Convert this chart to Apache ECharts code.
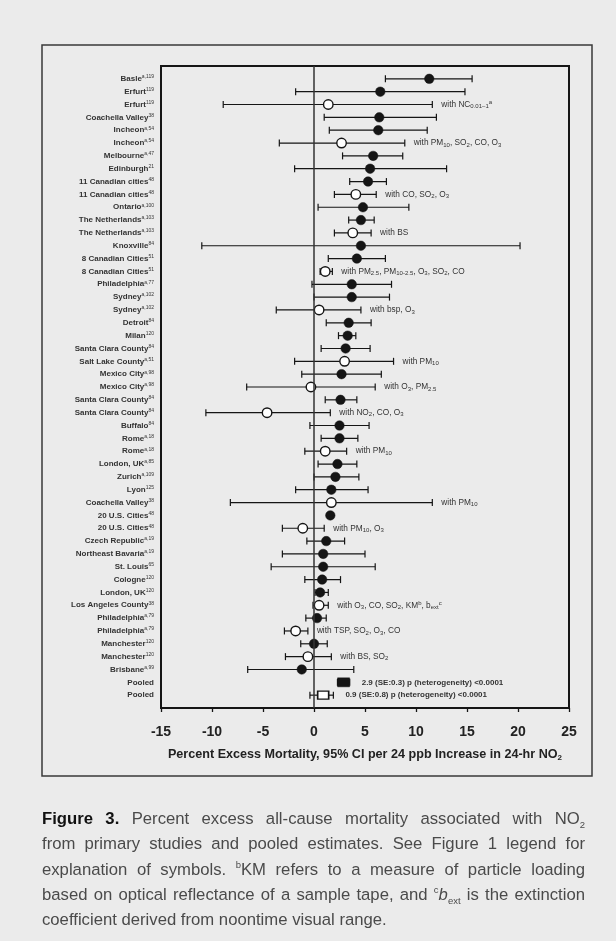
<!DOCTYPE html>
<html>
<head>
<meta charset="utf-8">
<script src="https://cdn.jsdelivr.net/npm/echarts@6/dist/echarts.min.js"></script>
<style>
html,body{margin:0;padding:0;background:#ebebeb;}
#wrap{position:relative;width:616px;height:941px;}
#c{position:absolute;left:0;top:0;width:616px;height:941px;}
#cap{position:absolute;left:42px;top:806px;width:543px;font-family:'Liberation Sans',Arial,sans-serif;
  font-size:16.7px;line-height:25.3px;color:#4a4a4a;}
#cap div{white-space:nowrap;}
#cap .j{text-align:justify;text-align-last:justify;white-space:normal;}
#cap b{color:#111;font-size:16.7px;}
#cap sub,#cap sup{font-size:9.5px;line-height:0;}
</style>
</head>
<body>
<div id="wrap">
<div id="c"></div>
<div id="cap">
  <div class="j"><b>Figure 3.</b> Percent excess all-cause mortality associated with NO<sub>2</sub></div>
  <div class="j">from primary studies and pooled estimates. See Figure 1 legend for</div>
  <div class="j">explanation of symbols. <sup>b</sup>KM refers to a measure of particle loading</div>
  <div class="j">based on optical reflectance of a sample tape, and <sup>c</sup><i>b</i><sub>ext</sub> is the extinction</div>
  <div>coefficient derived from noontime visual range.</div>
</div>
</div>
<script>
// ---- data ----
const studies = ["Basle","Erfurt","Erfurt","Coachella Valley","Incheon","Incheon","Melbourne","Edinburgh",
  "11 Canadian cities","11 Canadian cities","Ontario","The Netherlands","The Netherlands","Knoxville",
  "8 Canadian Cities","8 Canadian Cities","Philadelphia","Sydney","Sydney","Detroit","Milan",
  "Santa Clara County","Salt Lake County","Mexico City","Mexico City","Santa Clara County","Santa Clara County",
  "Buffalo","Rome","Rome","London, UK","Zurich","Lyon","Coachella Valley","20 U.S. Cities","20 U.S. Cities",
  "Czech Republic","Northeast Bavaria","St. Louis","Cologne","London, UK","Los Angeles County","Philadelphia",
  "Philadelphia","Manchester","Manchester","Brisbane","Pooled","Pooled"];
const refs = ["a,119","119","119","38","a,54","a,54","a,47","21","48","48","a,100","a,103","a,103","84",
  "51","51","a,77","a,102","a,102","84","120","84","a,51","a,98","a,98","84","84","84","a,18","a,18","a,85",
  "a,109","125","38","48","48","a,19","a,19","65","120","120","38","a,79","a,79","120","120","a,99","",""];
const estimate = [11.3,6.5,1.4,6.4,6.3,2.7,5.8,5.5,5.3,4.1,4.8,4.6,3.8,4.6,4.2,1.1,3.7,3.7,0.5,3.4,3.3,
  3.1,3.0,2.7,-0.3,2.6,-4.6,2.5,2.5,1.1,2.3,2.1,1.7,1.7,1.6,-1.1,1.2,0.9,0.9,0.8,0.6,0.5,0.3,-1.8,0.0,-0.6,-1.2,2.9,0.9];
const ciLow = [7.0,-1.8,-8.9,1.0,1.5,-3.4,2.8,-1.9,3.5,2.0,0.4,3.4,2.0,-11.0,1.4,0.6,-0.2,0.0,-3.7,1.2,2.4,
  0.7,-1.9,-1.2,-6.6,1.1,-10.6,-0.4,0.7,-0.9,0.4,0.0,-1.8,-8.2,null,-3.1,-0.7,-3.1,-4.2,-0.9,0.1,-0.1,-0.8,-2.9,-1.3,-2.8,-6.5,2.3,-0.4];
const ciHigh = [15.5,14.8,11.6,12.0,11.1,8.9,8.7,13.0,7.1,6.1,9.3,5.9,5.6,20.2,7.0,1.8,7.6,7.4,4.6,5.6,4.1,
  5.5,7.8,6.6,6.0,4.2,1.6,5.4,4.3,3.2,4.2,4.4,5.3,11.6,null,1.0,3.0,5.0,6.0,2.6,1.4,1.4,1.2,-0.6,1.3,1.7,3.9,3.5,1.9];
// f = single-pollutant (filled circle), o = multi-pollutant (open circle), F/O = pooled squares
const markerKind = ["f","f","o","f","f","o","f","f","f","o","f","f","o","f","f","o","f","f","o","f","f",
  "f","o","f","o","f","o","f","f","o","f","f","f","o","f","o","f","f","f","f","f","o","f","o","f","o","f","F","O"];
const notes = ["","","with NC{sub|0.01–1}{sup|a}","","","with PM{sub|10}, SO{sub|2}, CO, O{sub|3}","","","",
  "with CO, SO{sub|2}, O{sub|3}","","","with BS","","","with PM{sub|2.5}, PM{sub|10-2.5}, O{sub|3}, SO{sub|2}, CO","","",
  "with bsp, O{sub|3}","","","","with PM{sub|10}","","with O{sub|3}, PM{sub|2.5}","","with NO{sub|2}, CO, O{sub|3}","","",
  "with PM{sub|10}","","","","with PM{sub|10}","","with PM{sub|10}, O{sub|3}","","","","","",
  "with O{sub|3}, CO, SO{sub|2}, KM{sup|b}, b{sub|ext}{sup|c}","","with TSP, SO{sub|2}, O{sub|3}, CO","","with BS, SO{sub|2}","",
  "{b|2.9 (SE:0.3) p (heterogeneity) <0.0001}","{b|0.9 (SE:0.8) p (heterogeneity) <0.0001}"];
const xTicks = {min:-15, max:25, step:5};

// ---- chart ----
const INK = '#151515';
const chart = echarts.init(document.getElementById('c'), null, {renderer:'canvas'});

const barData = studies.map((s,i)=>[ciLow[i], ciHigh[i], i+1, i]);
const markerData = studies.map((s,i)=>{
  const k = markerKind[i];
  const filled = (k==='f'||k==='F');
  const square = (k==='F'||k==='O');
  return {
    value:[estimate[i], i+1],
    symbol: square ? 'rect' : 'circle',
    symbolSize: square ? (k==='F'?[12,9]:[11,8]) : 9.5,
    itemStyle:{color: filled?INK:'#ffffff', borderColor:INK, borderWidth: filled?0.5:1.4, opacity:1}
  };
});

const noteRich = {
  sub:{fontSize:6, verticalAlign:'bottom', padding:[4,0,0,0], fill:'#333', fontFamily:'Liberation Sans'},
  sup:{fontSize:6, verticalAlign:'top', padding:[0,0,4,0], fill:'#333', fontFamily:'Liberation Sans'},
  b:{fontSize:8, fontWeight:'bold', fill:'#333', fontFamily:'Liberation Sans'}
};

chart.setOption({
  backgroundColor:'#ebebeb',
  animation:false,
  grid:{left:161, right:47, top:66, bottom:233, show:true, borderColor:INK, borderWidth:2, backgroundColor:'transparent'},
  xAxis:{
    type:'value', min:xTicks.min, max:xTicks.max, interval:xTicks.step,
    axisLine:{show:true, onZero:false, lineStyle:{color:INK, width:2}},
    axisTick:{show:true, inside:false, length:4, lineStyle:{color:INK, width:1.3}},
    splitLine:{show:false},
    axisLabel:{color:'#222', fontSize:14, fontWeight:'bold', fontFamily:'Liberation Sans', margin:17},
    name:'{t|Percent Excess Mortality, 95% CI per 24 ppb Increase in 24-hr NO}{s|2}',
    nameLocation:'middle', nameGap:40,
    nameTextStyle:{rich:{
      t:{fontSize:12.6, fontWeight:'bold', color:'#222', fontFamily:'Liberation Sans'},
      s:{fontSize:8, fontWeight:'bold', color:'#222', verticalAlign:'bottom', padding:[6,0,0,0], fontFamily:'Liberation Sans'}
    }}
  },
  yAxis:{
    type:'value', min:0, max:studies.length+1, interval:1, inverse:true,
    axisLine:{show:false, onZero:false}, axisTick:{show:false}, splitLine:{show:false},
    axisLabel:{
      margin:7,
      formatter:(v)=>{
        const i=v-1;
        if(i<0||i>=studies.length) return '';
        return '{n|'+studies[i]+'}' + (refs[i]?'{r|'+refs[i]+'}':'');
      },
      rich:{
        n:{fontSize:8, fontWeight:'bold', color:'#333', fontFamily:'Liberation Sans'},
        r:{fontSize:5, color:'#333', verticalAlign:'top', padding:[0,0,4,0], fontFamily:'Liberation Sans'}
      }
    }
  },
  series:[
    {
      type:'custom', name:'ci', z:2,
      data:barData,
      renderItem:(params, api)=>{
        const lo=api.value(0), hi=api.value(1), row=api.value(2), idx=api.value(3);
        const children=[];
        let endX;
        if(ciLow[idx]!==null && ciHigh[idx]!==null){
          const a=api.coord([lo,row]), b=api.coord([hi,row]);
          const st={stroke:INK, lineWidth:1.2};
          children.push({type:'line', shape:{x1:a[0],y1:a[1],x2:b[0],y2:b[1]}, style:st});
          children.push({type:'line', shape:{x1:a[0],y1:a[1]-3.5,x2:a[0],y2:a[1]+3.5}, style:st});
          children.push({type:'line', shape:{x1:b[0],y1:b[1]-3.5,x2:b[0],y2:b[1]+3.5}, style:st});
          endX=b[0];
        } else {
          endX=api.coord([estimate[idx],row])[0]+5;
        }
        const note=notes[idx];
        if(note){
          const c=api.coord([0,row]);
          const pooled = markerKind[idx]==='F'||markerKind[idx]==='O';
          children.push({type:'text', style:{
            text:note, x:endX+(pooled?12:9), y:c[1], verticalAlign:'middle', align:'left',
            fontSize:8.3, fontFamily:'Liberation Sans', fill:'#333', rich:noteRich
          }});
        }
        return {type:'group', children};
      }
    },
    {
      type:'scatter', name:'estimate', z:3,
      data:markerData,
      itemStyle:{opacity:1},
      markLine:{
        silent:true, symbol:'none', label:{show:false},
        lineStyle:{color:'#333', width:1.5, type:'solid'},
        data:[{xAxis:0}]
      }
    }
  ],
  graphic:[
    {type:'rect', shape:{x:42, y:45, width:550, height:731}, style:{fill:'none', stroke:'#3a3a3a', lineWidth:1.5}, z:-1}
  ]
});
</script>
</body>
</html>
